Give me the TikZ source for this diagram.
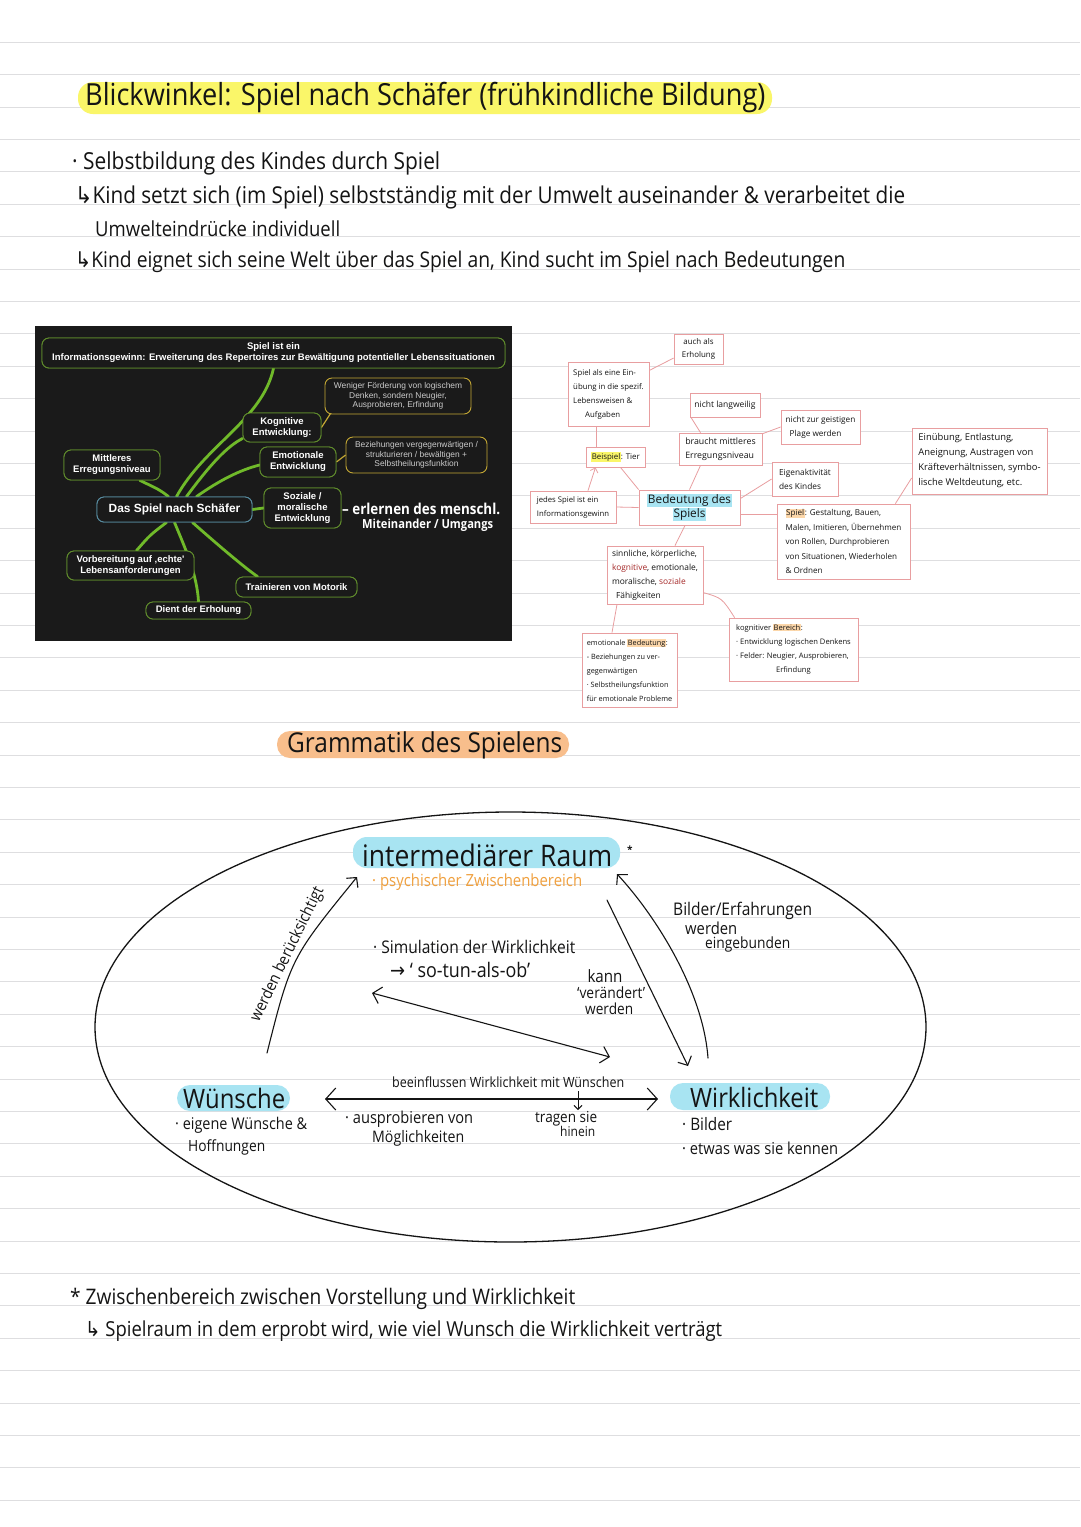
\documentclass[tikz,border=0pt]{standalone}
\usepackage{fontspec}
\setmainfont{Open Sans}
\newfontfamily\hand{Open Sans}
\newfontfamily\mmf{Liberation Sans}
\newfontfamily\symf{DejaVu Sans}
\usetikzlibrary{arrows.meta}
\definecolor{paperline}{RGB}{222,222,224}
\definecolor{ink}{RGB}{20,20,20}
\definecolor{hlyellow}{RGB}{250,246,105}
\definecolor{hlcyan}{RGB}{168,228,242}
\definecolor{hlorange}{RGB}{248,190,140}
\definecolor{hlpale}{RGB}{252,215,170}
\definecolor{pinkline}{RGB}{232,158,160}
\definecolor{mmbg}{RGB}{26,26,26}
\definecolor{leaf}{RGB}{112,186,42}
\definecolor{mmline}{RGB}{96,140,44}
\definecolor{mmyellow}{RGB}{196,168,52}
\definecolor{mmblue}{RGB}{88,140,160}
\definecolor{psych}{RGB}{240,160,62}
\definecolor{redmark}{RGB}{165,40,40}
\newcommand\fw[2]{\scalebox{1}[1.12]{\resizebox{#1pt}{!}{#2}}}
\newcommand\hly[1]{{\setlength\fboxsep{0.6pt}\colorbox{hlyellow}{#1}}}
\newcommand\hlc[1]{{\setlength\fboxsep{1pt}\colorbox{hlcyan}{#1}}}
\newcommand\hlo[1]{{\setlength\fboxsep{0.6pt}\colorbox{hlpale}{#1}}}
\begin{document}
\begin{tikzpicture}[x=1pt,y=-1pt,
  txt/.style={inner sep=0pt, font=\hand, text=ink},
  pbox/.style={draw=pinkline, line width=0.8pt, fill=white, inner sep=2pt, align=left, text=ink, font=\hand\fontsize{7.9}{14}\selectfont},
  pline/.style={draw=pinkline, line width=0.8pt},
  mmbox/.style={draw=mmline, line width=0.9pt, rounded corners=7pt, fill=mmbg, text=white, align=center, inner sep=1pt, font=\mmf\bfseries\fontsize{9.5}{11}\selectfont},
  mmybox/.style={mmbox, draw=mmyellow, text=white!80!black, font=\mmf\fontsize{8.4}{9.6}\selectfont},
  dsbox/.style={mmbox, draw=mmblue, font=\mmf\bfseries\fontsize{11.9}{13}\selectfont},
  branch/.style={draw=leaf, line width=2.8pt, line cap=round},
  ylink/.style={draw=mmyellow, line width=1.2pt},
  harrow/.style={draw=ink, line width=1.1pt, line cap=round},
  barb/.style={-{Straight Barb[length=7pt,width=15pt,line width=1.1pt]}},
  bigbarb/.style={{Straight Barb[length=10pt,width=22pt,line width=1.1pt]}-{Straight Barb[length=10pt,width=22pt,line width=1.1pt]}}
  ]
\useasboundingbox (0,0) rectangle (1080,1527);
\fill[white] (0,0) rectangle (1080,1527);
% ruled paper
\foreach \k in {-2,...,43} \draw[paperline, line width=0.9pt] (0,{107+\k*32.4}) -- (1080,{107+\k*32.4});

% ---------- header ----------
\fill[hlyellow, rounded corners=15pt] (78,82) rectangle (772,114);
\node[txt, anchor=west] (t0) at (85,98) {\fw{680}{Blickwinkel: Spiel nach Schäfer (frühkindliche Bildung)}};
\node[txt, anchor=west] (b1) at (72,163) {\fw{368}{· Selbstbildung des Kindes durch Spiel}};
\node[txt, anchor=west] (b2) at (75,197) {\fw{830}{{\symf ↳}Kind setzt sich (im Spiel) selbstständig mit der Umwelt auseinander \& verarbeitet die}};
\node[txt, anchor=west] (b3) at (95,229) {\fw{245}{Umwelteindrücke individuell}};
\node[txt, anchor=west] (b4) at (75,262) {\fw{770}{{\symf ↳}Kind eignet sich seine Welt über das Spiel an, Kind sucht im Spiel nach Bedeutungen}};

% ---------- mind map (dark picture) ----------
\fill[mmbg] (35,326) rectangle (512,641);
\node[dsbox, minimum width=155, minimum height=25] (ds) at (174.5,509.5) {Das Spiel nach Schäfer};
\node[mmbox, minimum width=463, minimum height=30] (top) at (273.5,353) {Spiel ist ein\\Informationsgewinn: Erweiterung des Repertoires zur Bewältigung potentieller Lebenssituationen};
\node[mmbox, minimum width=78, minimum height=29] (kog) at (282,427.5) {Kognitive\\Entwicklung:};
\node[mmbox, minimum width=76, minimum height=30] (emo) at (298,462) {Emotionale\\Entwicklung};
\node[mmbox, minimum width=77, minimum height=40] (soz) at (302.5,508) {Soziale /\\moralische\\Entwicklung};
\node[mmbox, minimum width=96, minimum height=30] (mit) at (112,465) {Mittleres\\Erregungsniveau};
\node[mmbox, minimum width=127, minimum height=29] (vor) at (130.5,565.5) {Vorbereitung auf ‚echte'\\Lebensanforderungen};
\node[mmbox, minimum width=121, minimum height=20] (tra) at (296.5,587) {Trainieren von Motorik};
\node[mmbox, minimum width=105, minimum height=17] (die) at (198.5,610.5) {Dient der Erholung};
\node[mmybox, minimum width=146, minimum height=36] (wen) at (398,396) {Weniger Förderung von logischem\\Denken, sondern Neugier,\\Ausprobieren, Erfindung};
\node[mmybox, minimum width=141, minimum height=36] (bez) at (416.5,455) {Beziehungen vergegenwärtigen /\\strukturieren / bewältigen +\\Selbstheilungsfunktion};
% branches
\draw[branch] ([xshift=2pt]ds.north) .. controls (205,445) and (262,420) .. (top.south);
\draw[branch] ([xshift=12pt]ds.north) .. controls (212,462) and (228,446) .. ([yshift=4pt]kog.south west);
\draw[branch] ([xshift=22pt]ds.north) .. controls (220,480) and (240,470) .. ([yshift=-3pt]emo.west);
\draw[branch] (ds.east) -- (soz.west);
\draw[branch] ([xshift=-6pt]ds.north) .. controls (160,490) .. ([xshift=28pt]mit.south);
\draw[branch] ([xshift=-8pt]ds.south) .. controls (150,535) .. ([xshift=6pt]vor.north);
\draw[branch] ([xshift=0pt]ds.south) .. controls (186,550) and (197,575) .. (die.north);
\draw[branch] ([xshift=18pt]ds.south) .. controls (218,545) and (245,568) .. ([xshift=22pt]tra.north west);
\draw[ylink] (kog.east) -- ([xshift=6pt,yshift=1pt]wen.south west);
\draw[ylink] (emo.east) -- (bez.west);
% boxes again, on top of the branches
\node[dsbox, minimum width=155, minimum height=25] (ds2) at (174.5,509.5) {Das Spiel nach Schäfer};
\node[mmbox, minimum width=463, minimum height=30] (top2) at (273.5,353) {Spiel ist ein\\Informationsgewinn: Erweiterung des Repertoires zur Bewältigung potentieller Lebenssituationen};
\node[mmbox, minimum width=78, minimum height=29] (kog2) at (282,427.5) {Kognitive\\Entwicklung:};
\node[mmbox, minimum width=76, minimum height=30] (emo2) at (298,462) {Emotionale\\Entwicklung};
\node[mmbox, minimum width=77, minimum height=40] (soz2) at (302.5,508) {Soziale /\\moralische\\Entwicklung};
\node[mmbox, minimum width=96, minimum height=30] (mit2) at (112,465) {Mittleres\\Erregungsniveau};
\node[mmbox, minimum width=127, minimum height=29] (vor2) at (130.5,565.5) {Vorbereitung auf ‚echte'\\Lebensanforderungen};
\node[mmbox, minimum width=121, minimum height=20] (tra2) at (296.5,587) {Trainieren von Motorik};
\node[mmbox, minimum width=105, minimum height=17] (die2) at (198.5,610.5) {Dient der Erholung};
\node[txt, text=white, anchor=west, font=\hand\bfseries] (erl) at (342,509) {\fw{158}{– erlernen des menschl.}};
\node[txt, text=white, anchor=west, font=\hand\bfseries] (mit3) at (362,525) {\fw{131}{Miteinander / Umgangs}};

% ---------- pink concept map ----------
\node[pbox, minimum width=49, minimum height=30, align=center, font=\hand\fontsize{7.9}{12.5}\selectfont] (aE) at (698.5,349) {auch als\\Erholung};
\node[pbox, minimum width=81, minimum height=64, font=\hand\fontsize{7.8}{14}\selectfont] (sE) at (608.5,394) {Spiel als eine Ein-\\übung in die spezif.\\Lebensweisen \&\\\hspace*{12pt}Aufgaben};
\node[pbox, minimum width=70, minimum height=24, font=\hand\fontsize{8.5}{13}\selectfont] (nL) at (725,405) {nicht langweilig};
\node[pbox, minimum width=59, minimum height=20] (bT) at (615.5,457) {\hly{Beispiel}: Tier};
\node[pbox, minimum width=83, minimum height=32, font=\hand\fontsize{8.8}{14}\selectfont] (bm) at (720.5,449) {braucht mittleres\\Erregungsniveau};
\node[pbox, minimum width=86, minimum height=32, font=\hand\fontsize{7.7}{14}\selectfont] (jS) at (573,507) {jedes Spiel ist ein\\Informationsgewinn};
\node[pbox, minimum width=101, minimum height=35, align=center, font=\hand\fontsize{11.8}{14}\selectfont] (Bd) at (689.5,507.5) {\hlc{Bedeutung des}\\\hlc{Spiels}};
\node[pbox, minimum width=79, minimum height=34, font=\hand\fontsize{8.2}{14}\selectfont] (nG) at (820.5,427) {nicht zur geistigen\\\hspace*{4pt}Plage werden};
\node[pbox, minimum width=66, minimum height=34, font=\hand\fontsize{8.3}{14}\selectfont] (Ei) at (805,479) {Eigenaktivität\\des Kindes};
\node[pbox, minimum width=133, minimum height=75, font=\hand\fontsize{8.1}{14.5}\selectfont] (SG) at (843.5,541.5) {\hlo{Spiel}: Gestaltung, Bauen,\\Malen, Imitieren, Übernehmen\\von Rollen, Durchprobieren\\von Situationen, Wiederholen\\\& Ordnen};
\node[pbox, minimum width=135, minimum height=66, font=\hand\fontsize{9.4}{15}\selectfont] (Eu) at (979.5,461) {Einübung, Entlastung,\\Aneignung, Austragen von\\Kräfteverhältnissen, symbo-\\lische Weltdeutung, etc.};
\node[pbox, minimum width=96, minimum height=58, font=\hand\fontsize{8.4}{14}\selectfont] (sk) at (655,575) {sinnliche, körperliche,\\\textcolor{redmark}{kognitive}, emotionale,\\moralische, \textcolor{redmark}{soziale}\\\hspace*{4pt}Fähigkeiten};
\node[pbox, minimum width=95, minimum height=74, font=\hand\fontsize{7.3}{14}\selectfont] (eB) at (629.5,670) {emotionale \hlo{Bedeutung}:\\ - Beziehungen zu ver-\\gegenwärtigen\\· Selbstheilungsfunktion\\für emotionale Probleme};
\node[pbox, minimum width=129, minimum height=63, font=\hand\fontsize{7.6}{14}\selectfont] (kB) at (793.5,649.5) {kognitiver \hlo{Bereich}:\\· Entwicklung logischen Denkens\\· Felder: Neugier, Ausprobieren,\\\hspace*{40pt}Erfindung};
\draw[pline] (sE.30) -- (aE.200);
\draw[pline] ([xshift=-12pt]sE.south) -- ([xshift=-19pt]bT.north);
\draw[pline] ([xshift=5pt]bT.south) -- (Bd.north west);
\draw[pline, -{Straight Barb[length=4pt,width=8pt]}] ([xshift=15pt]jS.north) -- ([xshift=-20pt]bT.south);
\draw[pline] (jS.east) -- (Bd.west);
\draw[pline] (Bd.north) -- ([xshift=-20pt]bm.south);
\draw[pline] ([xshift=-20pt]bm.north) -- ([xshift=-34pt]nL.south);
\draw[pline] (bm.20) -- (nG.west);
\draw[pline] (Bd.10) -- (Ei.west);
\draw[pline] ([yshift=-7pt]Bd.east) -- ([yshift=27pt]SG.west);
\draw[pline] ([xshift=-4.5pt]Bd.south) -- ([xshift=20pt]sk.north);
\draw[pline] ([xshift=-38pt]sk.south) -- ([xshift=-17.5pt]eB.north);
\draw[pline] (sk.-20) .. controls (722,598) .. ([xshift=6pt]kB.north west);
\draw[pline] ([xshift=-15pt]SG.north east) -- ([yshift=-17pt]Eu.west);

% ---------- Grammatik des Spielens ----------
\fill[hlorange, rounded corners=13pt] (277,731) rectangle (569,758);
\node[txt, anchor=west] (gram) at (287,745) {\fw{275}{Grammatik des Spielens}};

\draw[ink, line width=1.3pt] (510.5,1027) ellipse [x radius=415.5pt, y radius=215pt];

\fill[hlcyan, rounded corners=14pt] (353,837) rectangle (620,868);
\node[txt, anchor=west] (ir) at (362,855) {\fw{250}{intermediärer Raum}};
\node[txt, anchor=west, font=\hand\bfseries] (star) at (627,850) {*};
\node[txt, anchor=west, text=psych] (psy) at (372,882) {\fw{210}{· psychischer Zwischenbereich}};
\node[txt, anchor=west] (sim1) at (373,947) {\fw{202}{· Simulation der Wirklichkeit}};
\node[txt, anchor=west] (sim2) at (390,970) {\fw{140}{{\symf →} ‘ so-tun-als-ob’}};
\node[txt, anchor=center] (kan1) at (605,976) {\fw{35}{kann}};
\node[txt, anchor=west] (kan2) at (577,993) {\fw{68}{‘verändert’}};
\node[txt, anchor=west] (kan3) at (585,1009) {\fw{48}{werden}};
\node[txt, anchor=west] (bil1) at (673,911) {\fw{139}{Bilder/Erfahrungen}};
\node[txt, anchor=west] (bil2) at (685,928) {\fw{52}{werden}};
\node[txt, anchor=west] (bil3) at (705,944) {\fw{85}{eingebunden}};

\fill[hlcyan, rounded corners=13pt] (177,1085) rectangle (290,1111);
\node[txt, anchor=west] (wu) at (183,1098) {\fw{102}{Wünsche}};
\node[txt, anchor=west] (wu1) at (175,1125) {\fw{132}{· eigene Wünsche \&}};
\node[txt, anchor=west] (wu2) at (188,1147) {\fw{77}{Hoffnungen}};
\node[txt, anchor=west] (bee) at (392,1082) {\fw{232}{beeinflussen Wirklichkeit mit Wünschen}};
\node[txt, anchor=west] (aus1) at (345,1119) {\fw{128}{· ausprobieren von}};
\node[txt, anchor=west] (aus2) at (372,1138) {\fw{92}{Möglichkeiten}};
\node[txt, anchor=west] (tra1) at (535,1119) {\fw{62}{tragen sie}};
\node[txt, anchor=west] (tra3) at (560,1131) {\fw{35}{hinein}};
\fill[hlcyan, rounded corners=13pt] (670,1083) rectangle (830,1110);
\node[txt, anchor=west] (wi) at (690,1097) {\fw{128}{Wirklichkeit}};
\node[txt, anchor=west] (wi1) at (682,1124) {\fw{50}{· Bilder}};
\node[txt, anchor=west] (wi2) at (682,1148) {\fw{156}{· etwas was sie kennen}};
\node[txt, anchor=south, rotate=64] (wb) at (295,958) {\fw{148}{werden berücksichtigt}};

% arrows
\coordinate (a1s) at (267,1053); \coordinate (a1e) at (357,877);
\coordinate (a2s) at (372,993); \coordinate (a2e) at (610,1057);
\coordinate (a3s) at (607,900); \coordinate (a3e) at (688,1066);
\coordinate (a4s) at (708,1058); \coordinate (a4e) at (617,874);
\coordinate (a5s) at (325,1099); \coordinate (a5e) at (658,1099);
\coordinate (a6s) at (578,1091); \coordinate (a6e) at (578,1110);
\draw[harrow, barb] (a1s) .. controls (291,958) .. (a1e);
\draw[harrow, {Straight Barb[length=8pt,width=17pt,line width=1.1pt]}-{Straight Barb[length=8pt,width=17pt,line width=1.1pt]}] (a2s) -- (a2e);
\draw[harrow, barb] (a3s) -- (a3e);
\draw[harrow, barb] (a4s) .. controls (703,990) and (655,915) .. (a4e);
\draw[harrow, bigbarb] (a5s) -- (a5e);
\draw[ink, line width=0.9pt, -{Straight Barb[length=4pt,width=8pt,line width=0.9pt]}] (a6s) -- (a6e);

% ---------- footnote ----------
\node[txt, anchor=west] (fn1) at (70,1299) {\fw{505}{* Zwischenbereich zwischen Vorstellung und Wirklichkeit}};
\node[txt, anchor=west] (fn2) at (85,1331) {\fw{637}{{\symf ↳} Spielraum in dem erprobt wird, wie viel Wunsch die Wirklichkeit verträgt}};
\end{tikzpicture}
\end{document}
